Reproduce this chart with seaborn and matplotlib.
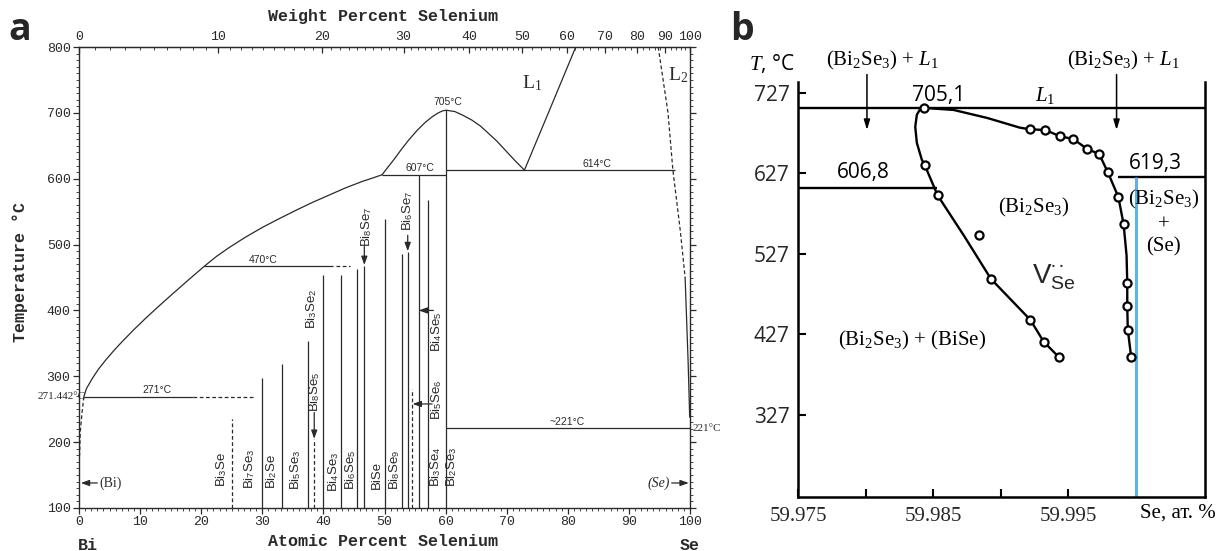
import re
import numpy as np
import matplotlib
matplotlib.use("Agg")
import matplotlib.pyplot as plt
import seaborn as sns
from matplotlib.ticker import MultipleLocator, FixedLocator

# ---------------- panel a : Bi-Se phase diagram ----------------
bi_liq_x = [0.8, 1.2, 2.2, 3.2, 4.4, 5.7, 7.1, 9.0, 10.9, 13.0, 15.3, 18.0, 20.5,
            22.5, 24.5, 27.2, 30.0, 32.7, 35.5, 38.2, 40.9, 43.6, 46.4, 48.2, 49.6]
bi_liq_t = [269, 281, 297, 311, 325, 339, 353, 371, 388, 406, 425, 447, 467,
            482, 495, 511, 526, 539, 552, 564, 575, 586, 596, 601.5, 606]
bi_sol_x = [0.8, 0.5, 0.2, 0.1]
bi_sol_t = [269, 245, 215, 180]
dome_x = [49.6, 50.6, 51.7, 52.8, 53.9, 55.3, 56.6, 57.8, 58.8, 59.5, 60.1, 60.8, 61.5,
          62.9, 64.3, 65.7, 67.0, 68.4, 69.7, 71.3, 72.9]
dome_t = [606, 618, 631, 645, 658, 673, 685, 694, 700, 703, 704, 703, 702,
          696, 689, 680, 669, 657, 644, 628, 613]
l1_x = [72.9, 77.0, 81.3]
l1_t = [613, 704, 800]
l2_dash_x = [94.8, 96.4, 97.2, 98.4, 99.2]
l2_dash_t = [800, 700, 613, 522, 450]
l2_solid_x = [99.2, 99.7, 99.95]
l2_solid_t = [450, 320, 238]

comp_names = ['Bi3Se', 'Bi7Se3', 'Bi2Se', 'Bi5Se3', 'Bi8Se5', 'Bi3Se2', 'Bi4Se3', 'Bi6Se5',
              'Bi8Se7', 'BiSe', 'Bi8Se9', 'Bi6Se7', 'Bi5Se6', 'Bi4Se5', 'Bi3Se4', 'Bi2Se3']
comp_at = [25.0, 30.0, 33.3, 37.5, 38.5, 40.0, 42.9, 45.5, 46.7, 50.0, 52.9, 53.8, 54.5, 55.6, 57.1, 60.0]
comp_top = [235, 297, 319, 354, 205, 454, 454, 463, 467, 539, 486, 488, 280, 606, 568, 704]
comp_dashed = ['Bi3Se', 'Bi8Se5', 'Bi5Se6']

# invariant lines (T, from at.%, to at.%)
iso_t = [269, 467, 606, 613, 221]
iso_from = [0.8, 20.5, 49.6, 60.0, 60.0]
iso_to = [18.7, 41.6, 60.0, 97.5, 100.0]
iso_dash_t = [269, 467]
iso_dash_from = [18.7, 42.0]
iso_dash_to = [28.8, 44.4]

M_BI, M_SE = 208.98, 78.971

# ---------------- panel b : Bi2Se3 homogeneity region ----------------
left_x = [59.98433, 59.9840, 59.98379, 59.98367, 59.98379, 59.98416, 59.98436, 59.98532,
          59.9873, 59.98927, 59.99219, 59.99317, 59.99428]
left_t = [708.5, 706, 700, 685, 665, 644, 638, 600, 549, 496, 445, 418, 399]
right_x = [59.98433, 59.9865, 59.9890, 59.9914, 59.99213, 59.9933, 59.99441, 59.99535, 59.99634,
           59.99728, 59.9979, 59.99869, 59.99908, 59.9993, 59.99935, 59.99935, 59.99939, 59.99964]
right_t = [708.5, 706, 696, 684, 682, 681, 673, 670, 658, 651, 629, 598, 564, 525, 491, 462, 433, 399]
pts_x = [59.98433, 59.98436, 59.98532, 59.98927, 59.99219, 59.99317, 59.99428, 59.98836,
         59.99213, 59.9933, 59.99441, 59.99535, 59.99634, 59.99728, 59.9979, 59.99869, 59.99908,
         59.99935, 59.99935, 59.99939, 59.99964]
pts_t = [708.5, 638, 600, 496, 445, 418, 399, 551,
         682, 681, 673, 670, 658, 651, 629, 598, 564, 491, 462, 433, 399]
b_iso_t = [708.5, 609, 622.6]
b_iso_from = [59.975, 59.975, 59.99867]
b_iso_to = [60.0051, 59.98530, 60.0051]
stoich_x = 60.000
b_yticks = [727, 627, 527, 427, 327]
b_xticks = [59.975, 59.980, 59.985, 59.990, 59.995]
b_xlabels = ['59.975', '', '59.985', '', '59.995']

sns.set_style("ticks")
plt.rcParams['font.family'] = ['Liberation Mono', 'DejaVu Sans']
plt.rcParams['mathtext.fontset'] = 'custom'
plt.rcParams['mathtext.rm'] = 'Liberation Serif'
plt.rcParams['mathtext.it'] = 'Liberation Serif:italic'
plt.rcParams['mathtext.sf'] = 'Liberation Sans'

fig = plt.figure(figsize=(12.31, 5.51), dpi=100)

# ======================= panel a =======================
ink = '#2a2a2a'
ax = fig.add_axes([79 / 1231, 1 - 508 / 551, 611 / 1231, 461 / 551])
ax.set_xlim(0, 100)
ax.set_ylim(100, 800)

kw = dict(ax=ax, color=ink, lw=0.9, sort=False, estimator=None, legend=False)
sns.lineplot(x=bi_liq_x, y=bi_liq_t, **kw)
sns.lineplot(x=bi_sol_x, y=bi_sol_t, linestyle=(0, (3, 2)), **kw)
sns.lineplot(x=dome_x, y=dome_t, **kw)
sns.lineplot(x=l1_x, y=l1_t, **kw)
sns.lineplot(x=l2_dash_x, y=l2_dash_t, linestyle=(0, (3, 2)), **kw)
sns.lineplot(x=l2_solid_x, y=l2_solid_t, **kw)

ax.hlines(iso_t, iso_from, iso_to, color=ink, lw=0.9)
ax.hlines(iso_dash_t, iso_dash_from, iso_dash_to, color=ink, lw=0.9, linestyles=(0, (3, 2)))

for name, x, top in zip(comp_names, comp_at, comp_top):
    ls = (0, (3, 2)) if name in comp_dashed else '-'
    ax.vlines(x, 100, top, color=ink, lw=0.9, linestyles=ls)


def sub(name):
    return re.sub(r'(\d+)', r'$_\\mathsf{\1}$', name)


lab_pos = {'Bi3Se': (23.4, 158), 'Bi7Se3': (28.0, 160), 'Bi2Se': (31.6, 156),
           'Bi5Se3': (35.5, 158), 'Bi8Se5': (38.5, 277), 'Bi3Se2': (38.1, 402),
           'Bi4Se3': (41.6, 155), 'Bi6Se5': (44.4, 158), 'Bi8Se7': (47.0, 527),
           'BiSe': (48.8, 150), 'Bi8Se9': (51.6, 158), 'Bi6Se7': (53.8, 551),
           'Bi5Se6': (58.5, 264), 'Bi4Se5': (58.6, 367), 'Bi3Se4': (58.3, 162),
           'Bi2Se3': (61.0, 162)}
for name in comp_names:
    x, t = lab_pos[name]
    ax.text(x, t, sub(name), rotation=90, ha='center', va='center',
            fontsize=9.5, family='Liberation Sans', color=ink)

arrows = [((38.5, 245), (38.5, 205)), ((46.7, 497), (46.7, 469)), ((53.8, 514), (53.8, 490)),
          ((58.0, 400), (55.6, 400)), ((57.8, 258), (54.6, 258)),
          ((3.0, 138), (0.3, 138)), ((97.0, 138), (99.8, 138))]
for (x0, y0), (x1, y1) in arrows:
    ax.annotate('', xy=(x1, y1), xytext=(x0, y0),
                arrowprops=dict(arrowstyle='-|>,head_length=0.5,head_width=0.18',
                                color=ink, lw=0.9, shrinkA=0, shrinkB=0))

small = dict(fontsize=7.5, family='Liberation Sans', color=ink)
ax.text(12.8, 271, '271°C', ha='center', va='bottom', **small)
ax.text(30.1, 469, '470°C', ha='center', va='bottom', **small)
ax.text(55.8, 608, '607°C', ha='center', va='bottom', **small)
ax.text(60.4, 709, '705°C', ha='center', va='bottom', **small)
ax.text(84.8, 615, '614°C', ha='center', va='bottom', **small)
ax.text(79.9, 223, '~221°C', ha='center', va='bottom', **small)
ax.text(1.1, 269, '271.442°C', ha='right', va='center', fontsize=8, family='Liberation Serif', color=ink)
ax.text(100.5, 220, '221°C', ha='left', va='center', fontsize=8, family='Liberation Serif', color=ink)
ax.text(3.3, 138, '(Bi)', ha='left', va='center', fontsize=10, family='Liberation Serif', color=ink)
ax.text(96.7, 138, '(Se)', ha='right', va='center', fontsize=10, family='Liberation Serif',
        style='italic', color=ink)
ax.text(74.1, 745, r'L$_\mathrm{1}$', ha='center', va='center', fontsize=14,
        family='Liberation Serif', color=ink)
ax.text(98.0, 757, r'L$_\mathrm{2}$', ha='center', va='center', fontsize=14,
        family='Liberation Serif', color=ink)

for s in ax.spines.values():
    s.set_visible(True)
    s.set_color(ink)
    s.set_linewidth(1.0)
ax.set_xticks(range(0, 101, 10))
ax.set_yticks(range(100, 801, 100))
ax.xaxis.set_minor_locator(MultipleLocator(1))
ax.yaxis.set_minor_locator(MultipleLocator(10))
ax.tick_params(axis='both', which='major', direction='out', length=4, width=0.9, color=ink,
               labelsize=9.5, labelcolor=ink, pad=2)
ax.tick_params(axis='both', which='minor', direction='out', length=2, width=0.6, color=ink)
ax.tick_params(axis='y', which='both', left=True, right=True)


def at2wt(x):
    x = np.clip(np.asarray(x, dtype=float), 0, 100)
    return 100 * x * M_SE / (x * M_SE + (100 - x) * M_BI)


def wt2at(w):
    w = np.clip(np.asarray(w, dtype=float), 0, 100)
    return 100 * (w / M_SE) / (w / M_SE + (100 - w) / M_BI)


top = ax.secondary_xaxis('top', functions=(at2wt, wt2at))
top.set_xticks(range(0, 101, 10))
top.xaxis.set_minor_locator(FixedLocator(list(range(1, 50)) + list(range(52, 100, 2))))
top.tick_params(which='major', direction='in', length=4, width=0.9, color=ink,
                labelsize=9.5, labelcolor=ink, pad=3)
top.tick_params(which='minor', direction='in', length=2, width=0.6, color=ink)
top.spines['top'].set_color(ink)

lab = dict(fontsize=12, weight='bold', family='Liberation Mono', color=ink)
fig.text(383 / 1231, 1 - 16 / 551, 'Weight Percent Selenium', ha='center', va='center', **lab)
fig.text(383 / 1231, 1 - 541 / 551, 'Atomic Percent Selenium', ha='center', va='center', **lab)
fig.text(20 / 1231, 1 - 272 / 551, 'Temperature °C', ha='center', va='center', rotation=90, **lab)
fig.text(88 / 1231, 1 - 545 / 551, 'Bi', ha='center', va='center', **lab)
fig.text(690 / 1231, 1 - 545 / 551, 'Se', ha='center', va='center', **lab)

# ======================= panel b =======================
bx = fig.add_axes([798 / 1231, 1 - 497 / 551, 407 / 1231, 415 / 551])
bx.set_xlim(59.975, 60.0051)
bx.set_ylim(225, 740.7)

kb = dict(ax=bx, color='black', lw=1.7, sort=False, estimator=None, legend=False)
sns.lineplot(x=left_x, y=left_t, **kb)
sns.lineplot(x=right_x, y=right_t, **kb)
bx.hlines(b_iso_t, b_iso_from, b_iso_to, color='black', lw=1.7)
bx.vlines(stoich_x, 225, b_iso_t[2], color='#5ab4e5', lw=2.2, zorder=2)
sns.scatterplot(x=pts_x, y=pts_t, ax=bx, s=34, color='white', edgecolor='black',
                linewidth=1.6, zorder=4, legend=False)

for xa in [59.9801, 59.99856]:
    bx.annotate('', xy=(xa, 681), xytext=(xa, 750), annotation_clip=False,
                arrowprops=dict(arrowstyle='-|>,head_length=0.6,head_width=0.18',
                                color='black', lw=1.1, shrinkA=0, shrinkB=0))

serif = dict(family='Liberation Serif', color='black', fontsize=15)
sans = dict(family='Open Sans', color='black', fontsize=15)
bx.text(59.98122, 768, r'(Bi$_2$Se$_3$) + $\mathit{L}_1$', ha='center', va='center', **serif)
bx.text(59.99907, 768, r'(Bi$_2$Se$_3$) + $\mathit{L}_1$', ha='center', va='center', **serif)
bx.text(59.97307, 764, r'$\mathsf{\mathit{T}}$, °C', ha='center', va='center', **sans)
bx.text(59.98537, 724, '705,1', ha='center', va='center', **sans)
bx.text(59.99330, 724, r'$\mathit{L}_1$', ha='center', va='center', **serif)
bx.text(59.97981, 628, '606,8', ha='center', va='center', **sans)
bx.text(60.00144, 640, '619,3', ha='center', va='center', **sans)
bx.text(59.99241, 585, r'(Bi$_2$Se$_3$)', ha='center', va='center', **serif)
bx.text(60.00204, 595, r'(Bi$_2$Se$_3$)', ha='center', va='center', **serif)
bx.text(60.00204, 563, '+', ha='center', va='center', **serif)
bx.text(60.00204, 536, '(Se)', ha='center', va='center', **serif)
bx.text(59.98344, 420, r'(Bi$_2$Se$_3$) + (BiSe)', ha='center', va='center', **serif)
bx.text(59.99389, 498, r'$\mathsf{V}_{\mathsf{Se}}^{\bullet\bullet}$', ha='center', va='center',
        family='Open Sans', fontsize=20)
bx.text(60.00307, 205, 'Se, ат. %', ha='center', va='center', **serif)

bx.spines['top'].set_visible(False)
for k in ['left', 'right', 'bottom']:
    bx.spines[k].set_linewidth(1.8)
    bx.spines[k].set_color('black')
bx.set_yticks(b_yticks)
bx.set_yticklabels([str(v) for v in b_yticks])
bx.set_xticks(b_xticks)
bx.set_xticklabels(b_xlabels)
bx.tick_params(axis='both', direction='in', length=6, width=1.5, color='black', labelsize=15)
bx.tick_params(axis='y', pad=6)
bx.tick_params(axis='x', pad=7)
for lbl in bx.get_yticklabels():
    lbl.set_family('Open Sans')
for lbl in bx.get_xticklabels():
    lbl.set_family('Liberation Serif')

fig.text(8 / 1231, 1 - 40 / 551, 'a', fontsize=27, weight='bold', family='Open Sans', va='baseline')
fig.text(730 / 1231, 1 - 40 / 551, 'b', fontsize=27, weight='bold', family='Open Sans', va='baseline')

fig.savefig('out.png', dpi=100, facecolor='white')
